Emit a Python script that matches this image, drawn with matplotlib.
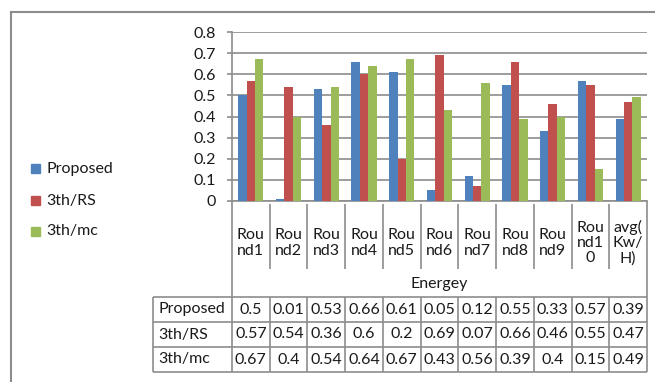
import numpy as np
import matplotlib
matplotlib.use("Agg")
import matplotlib.pyplot as plt
from matplotlib.patches import Rectangle

plt.rcParams['font.family'] = ['Lato', 'DejaVu Sans']

# ---------------- data ----------------
categories = ["Rou\nnd1", "Rou\nnd2", "Rou\nnd3", "Rou\nnd4", "Rou\nnd5", "Rou\nnd6",
              "Rou\nnd7", "Rou\nnd8", "Rou\nnd9", "Rou\nnd1\n0", "avg(\nKw/\nH)"]
series_names = ["Proposed", "3th/RS", "3th/mc"]
proposed = [0.5, 0.01, 0.53, 0.66, 0.61, 0.05, 0.12, 0.55, 0.33, 0.57, 0.39]
rs = [0.57, 0.54, 0.36, 0.6, 0.2, 0.69, 0.07, 0.66, 0.46, 0.55, 0.47]
mc = [0.67, 0.4, 0.54, 0.64, 0.67, 0.43, 0.56, 0.39, 0.4, 0.15, 0.49]
x_title = "Energey"
y_ticks = [0, 0.1, 0.2, 0.3, 0.4, 0.5, 0.6, 0.7, 0.8]
colors = ["#4F81BD", "#C0504D", "#9BBB59"]

series = [proposed, rs, mc]
n = len(categories)

# ---------------- layout (pixels) ----------------
W, H = 655, 382
grey = "#8c8c8c"
fs = 11.5
txt = "#1a1a1a"

fig = plt.figure(figsize=(W / 100, H / 100), dpi=100)

# overlay in pixel coordinates for frame, table and legend
ov = fig.add_axes([0, 0, 1, 1])
ov.set_xlim(0, W)
ov.set_ylim(H, 0)
ov.axis("off")

plot_l, plot_r, plot_t, plot_b = 232, 647, 32, 201
ax = fig.add_axes([plot_l / W, 1 - plot_b / H, (plot_r - plot_l) / W, (plot_b - plot_t) / H])
ax.patch.set_visible(False)

# ---------------- bars ----------------
x = np.arange(n)
w = 1 / 4.5
for k, (vals, c, name) in enumerate(zip(series, colors, series_names)):
    ax.bar(x + (k - 1) * w, vals, w, color=c, label=name, zorder=3)

ax.set_xlim(-0.5, n - 0.5)
ax.set_ylim(0, 0.8)
ax.set_yticks(y_ticks)
ax.set_yticklabels([f"{v:g}" for v in y_ticks], fontsize=fs, color=txt)
ax.set_xticks([])
ax.yaxis.grid(True, color=grey, lw=1.2)
ax.set_axisbelow(True)
for s in ["top", "right"]:
    ax.spines[s].set_visible(False)
for s in ["left", "bottom"]:
    ax.spines[s].set_color(grey)
    ax.spines[s].set_linewidth(1.2)
ax.tick_params(axis="y", length=3.6, width=1.2, color=grey, pad=8)

# ---------------- outer frame ----------------
ov.plot([11, 11], [12, H], color=grey, lw=1.5)
ov.plot([11, W], [12, 12], color=grey, lw=1.5)

# ---------------- data table ----------------
colw = (plot_r - plot_l) / n
edges = plot_l + colw * np.arange(n + 1)
centers = edges[:-1] + colw / 2
tab_l = 153
row_lines = [297, 322, 347, 372]

lk = dict(color=grey, lw=1.2, solid_capstyle="butt")
for e in edges[1:-1]:
    ov.plot([e, e], [204, 269], **lk)
    ov.plot([e, e], [row_lines[0], row_lines[-1]], **lk)
ov.plot([edges[0], edges[0]], [plot_b, row_lines[-1]], **lk)
ov.plot([edges[-1], edges[-1]], [plot_b, row_lines[-1]], **lk)
ov.plot([tab_l, tab_l], [row_lines[0], row_lines[-1]], **lk)
for r in row_lines:
    ov.plot([tab_l, edges[-1]], [r, r], **lk)

for cx, lab in zip(centers, categories):
    ov.text(cx, 243, lab, ha="center", va="center", fontsize=fs, linespacing=1.1, color=txt)
ov.text((edges[0] + edges[-1]) / 2, 284, x_title, ha="center", va="center", fontsize=fs, color=txt)

for j, (name, vals) in enumerate(zip(series_names, series)):
    yc = (row_lines[j] + row_lines[j + 1]) / 2
    ov.text(tab_l + 5, yc, name, ha="left", va="center", fontsize=fs, color=txt)
    for cx, v in zip(centers, vals):
        ov.text(cx, yc, f"{v:g}", ha="center", va="center", fontsize=fs, color=txt)

# ---------------- legend ----------------
for name, c, yc in zip(series_names, colors, [168.5, 200.5, 231]):
    ov.add_patch(Rectangle((31, yc - 4.5), 9, 9, color=c))
    ov.text(46, yc, name, ha="left", va="center", fontsize=fs, color=txt)

fig.savefig("out.png", dpi=100)
